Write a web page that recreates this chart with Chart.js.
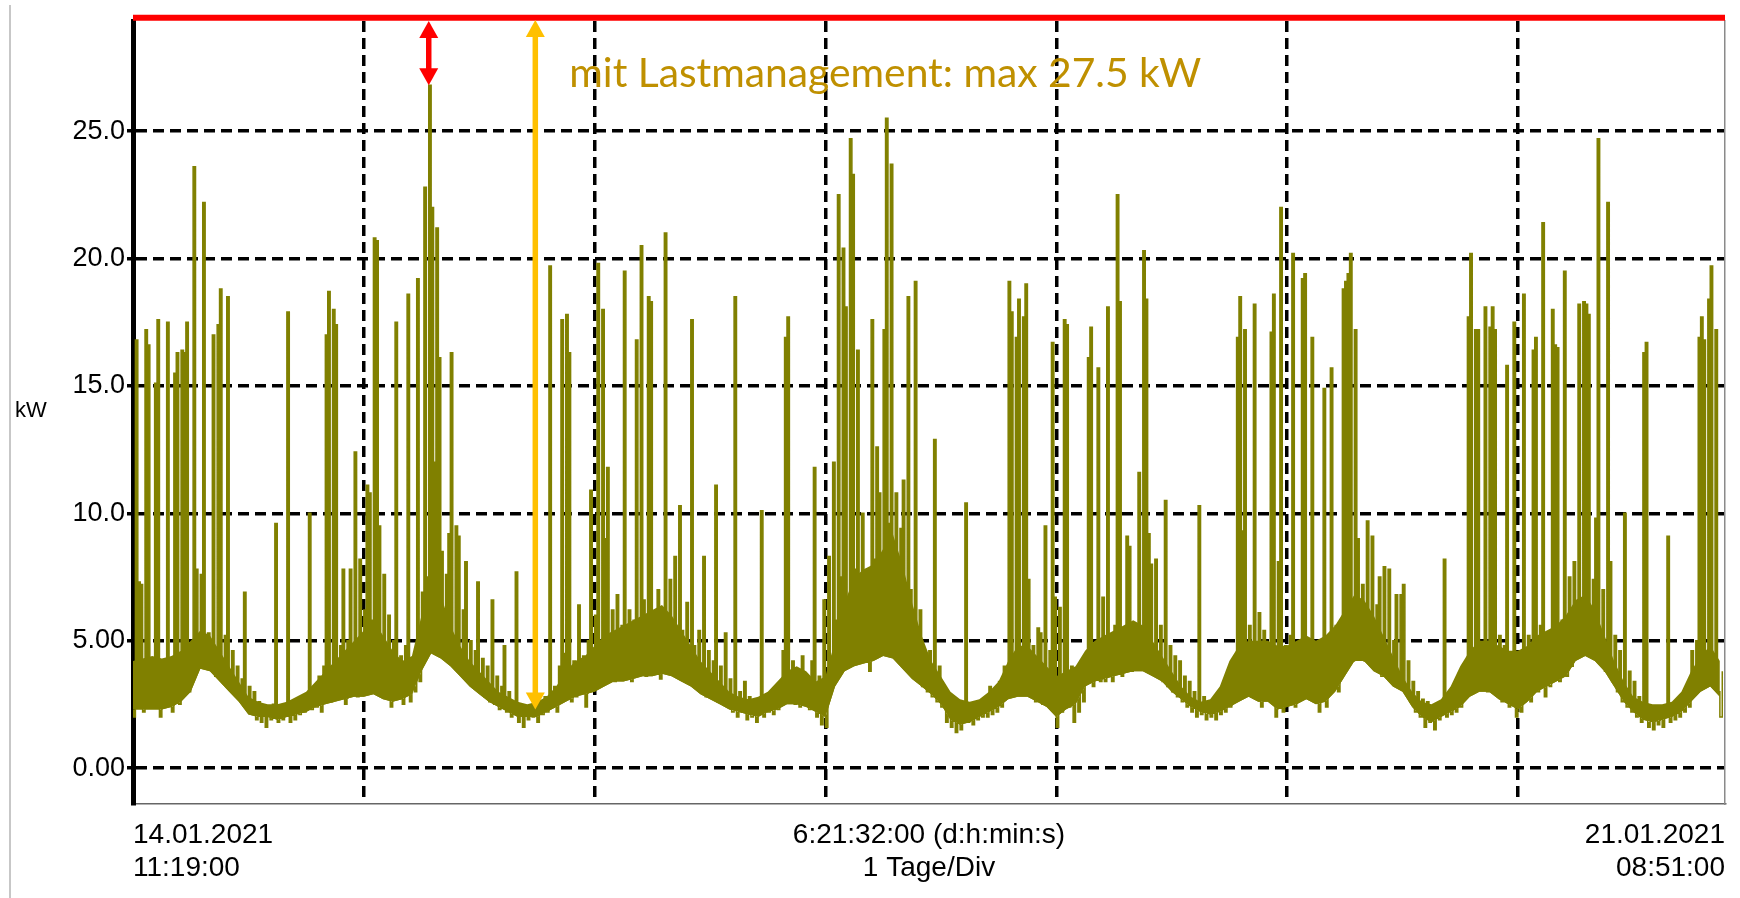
<!DOCTYPE html>
<html lang="de">
<head>
<meta charset="utf-8">
<title>Leistung mit Lastmanagement</title>
<script src="https://cdn.jsdelivr.net/npm/chart.js@4.4.1/dist/chart.umd.min.js"></script>
<style>
	html, body { margin: 0; padding: 0; background: #fff; }
	#wrap { position: relative; width: 1740px; height: 898px; }
</style>
</head>
<body>
<div id="wrap"><canvas id="loadChart"></canvas></div>
<script>
(function () {
	'use strict';

	// Messwerte in kW, 15-min-Raster ab 14.01.2021 11:19:00, ein Array pro Tag/Div
	var day1Kw = [
		2.0, 16.8, 7.3, 7.2, 2.2, 17.2, 16.6, 2.4, 4.0, 15.1, 17.6, 2.0,
		3.8, 2.6, 17.5, 3.5, 2.2, 15.5, 16.3, 2.5, 16.4, 16.3, 17.5, 3.0,
		4.4, 23.6, 7.8, 4.6, 7.6, 22.2, 4.8, 5.3, 4.2, 17.0, 3.6, 17.4,
		18.8, 3.4, 5.2, 18.5, 3.2, 4.6, 2.9, 4.0, 2.7, 3.5, 6.9, 2.5,
		3.2, 2.2, 3.0, 1.9, 2.6, 1.8, 2.4, 1.6, 2.3, 1.9, 2.5, 9.6,
		1.8, 2.2, 1.9, 2.3, 17.9, 1.8, 2.2, 1.9, 2.4, 2.1, 2.6, 2.2,
		2.8, 10.0, 2.3, 3.2, 2.4, 3.6, 2.2, 4.0, 17.0, 18.7, 2.6, 18.0,
		17.4, 3.0, 4.8, 7.8, 2.5, 5.0, 7.8, 3.2, 12.4, 2.8, 8.2, 3.0
	];
	var day2Kw = [
		6.2, 11.1, 10.8, 5.8, 20.8, 20.7, 9.5, 4.0, 7.6, 3.2, 6.0, 2.4,
		5.0, 17.5, 2.8, 4.4, 2.5, 4.8, 18.6, 2.6, 4.2, 3.0, 19.2, 3.4,
		6.9, 22.8, 7.5, 26.8, 22.0, 12.0, 21.2, 16.1, 8.5, 4.4, 7.6, 9.2,
		16.3, 4.2, 9.5, 9.1, 4.0, 6.2, 8.1, 3.8, 5.0, 3.4, 4.6, 7.3,
		3.2, 4.3, 2.8, 4.0, 2.6, 6.6, 2.5, 3.6, 2.3, 3.2, 4.8, 2.2,
		3.0, 2.0, 2.6, 7.7, 1.8, 2.4, 1.6, 2.2, 1.9, 2.3, 2.0, 2.5,
		1.8, 2.4, 2.1, 2.8, 2.2, 19.7, 2.4, 3.2, 2.2, 4.0, 17.6, 4.5,
		17.8, 16.3, 2.6, 4.2, 2.8, 6.4, 3.0, 4.4, 2.4, 5.0, 10.9, 3.6
	];
	var day3Kw = [
		6.0, 19.8, 4.5, 18.0, 9.0, 11.8, 3.8, 6.2, 3.4, 6.8, 3.6, 5.6,
		19.5, 3.8, 6.2, 3.4, 5.8, 16.8, 4.2, 20.5, 6.6, 3.6, 18.5, 18.3,
		5.4, 3.8, 7.0, 3.5, 6.0, 21.0, 4.0, 7.4, 3.8, 8.3, 4.5, 10.3,
		5.4, 3.6, 6.5, 3.5, 17.6, 4.8, 3.2, 5.4, 3.0, 8.3, 2.8, 4.6,
		3.0, 4.2, 11.1, 2.6, 4.0, 2.5, 5.3, 2.4, 3.5, 2.2, 18.5, 2.0,
		3.0, 2.2, 3.4, 1.9, 2.8, 2.0, 2.6, 1.8, 2.5, 10.1, 2.0, 2.7,
		2.2, 2.6, 2.1, 3.0, 2.3, 3.2, 4.6, 16.9, 17.7, 2.6, 4.2, 2.5,
		3.8, 2.4, 4.4, 2.6, 3.6, 2.3, 4.2, 11.8, 2.0, 3.6, 1.7, 6.6
	];
	var day4Kw = [
		1.6, 8.3, 3.4, 12.0, 5.8, 22.5, 7.5, 20.4, 18.1, 6.4, 24.7, 23.3,
		7.8, 16.4, 4.2, 10.0, 6.0, 7.8, 3.8, 17.6, 8.2, 12.6, 10.8, 7.5,
		17.2, 25.5, 9.6, 23.7, 8.4, 10.8, 6.5, 9.4, 11.3, 5.2, 18.5, 7.0,
		4.0, 19.1, 4.4, 6.2, 3.2, 4.5, 3.0, 4.6, 2.8, 12.9, 2.6, 4.0,
		2.4, 3.0, 1.8, 2.6, 1.6, 2.4, 1.4, 2.2, 1.5, 2.4, 10.4, 1.8,
		2.3, 1.7, 2.5, 1.9, 2.4, 2.0, 2.6, 2.0, 3.2, 2.1, 2.8, 2.2,
		3.4, 2.4, 4.0, 2.8, 19.1, 17.9, 3.6, 16.9, 18.4, 4.2, 17.7, 19.0,
		7.4, 3.0, 4.8, 2.6, 5.5, 5.3, 2.5, 9.5, 3.2, 4.6, 16.7, 6.7
	];
	var day5Kw = [
		1.6, 6.3, 2.2, 17.6, 17.4, 2.4, 4.0, 1.8, 3.6, 2.2, 4.2, 2.6,
		3.6, 16.1, 17.3, 3.2, 4.6, 15.7, 3.4, 6.7, 3.4, 18.1, 4.6, 3.4,
		5.6, 22.5, 18.3, 3.6, 5.0, 9.1, 8.7, 3.8, 5.4, 4.0, 11.6, 4.4,
		20.3, 18.4, 9.2, 8.0, 4.2, 8.2, 3.8, 5.6, 3.4, 10.5, 3.2, 4.8,
		3.0, 4.4, 2.8, 4.2, 2.6, 3.6, 2.4, 3.4, 2.2, 3.0, 2.0, 10.3,
		2.1, 2.8, 1.9, 2.6, 2.0, 2.7, 1.9, 2.5, 2.1, 2.8, 2.2, 3.2,
		2.4, 4.0, 3.0, 16.9, 18.5, 9.3, 17.2, 3.4, 5.6, 2.8, 18.2, 4.2,
		6.1, 2.4, 5.4, 3.0, 4.6, 17.1, 18.6, 2.0, 8.1, 22.0, 2.2, 4.8
	];
	var day6Kw = [
		2.6, 5.2, 20.2, 2.4, 4.8, 2.8, 19.2, 19.4, 3.0, 5.0, 16.9, 2.6,
		4.4, 2.2, 5.0, 14.9, 2.4, 5.2, 15.7, 3.2, 5.6, 3.0, 5.8, 18.8,
		19.1, 19.4, 20.2, 4.2, 17.2, 9.0, 4.6, 7.2, 4.2, 9.7, 4.4, 9.1,
		4.0, 6.4, 7.5, 3.6, 7.9, 3.8, 7.8, 3.4, 5.0, 6.8, 3.2, 6.8,
		7.2, 3.0, 4.2, 2.6, 3.4, 2.2, 3.0, 2.0, 2.7, 1.6, 2.6, 1.8,
		2.4, 1.5, 2.5, 1.9, 2.6, 8.2, 2.0, 2.5, 2.1, 2.8, 2.2, 3.0,
		2.4, 3.6, 3.2, 17.7, 20.2, 3.6, 17.2, 17.2, 3.2, 4.8, 18.1, 3.0,
		17.3, 18.1, 17.2, 3.4, 5.2, 2.6, 4.8, 15.8, 2.4, 4.2, 17.5, 2.0
	];
	var day7Kw = [
		4.4, 2.2, 18.6, 3.4, 5.2, 2.6, 16.4, 16.9, 3.0, 5.6, 21.4, 2.8,
		5.0, 3.2, 18.0, 16.6, 16.5, 3.4, 5.8, 19.5, 3.6, 7.5, 4.0, 8.1,
		4.4, 18.2, 6.0, 18.3, 18.2, 17.8, 5.0, 7.4, 9.8, 24.7, 4.6, 7.0,
		3.8, 22.2, 8.1, 3.4, 5.2, 3.0, 4.6, 2.6, 10.0, 2.4, 3.8, 2.2,
		3.4, 2.0, 2.8, 1.8, 16.3, 16.7, 1.6, 2.4, 1.5, 2.2, 1.7, 2.4,
		1.6, 2.3, 9.1, 1.8, 2.2, 1.9, 2.4, 2.0, 2.6, 2.2, 3.0, 2.4,
		4.6, 3.0, 5.0, 16.9, 17.7, 16.8, 3.6, 18.4, 19.7, 4.4, 17.2, 3.0,
		2.0, 3.8
	];

	// dichtes Band der Minutenwerte (untere / obere Kante), stuendlich
	var bandLowKw = [
		2.3, 2.3, 2.3, 2.3, 2.4, 2.6, 3.0, 3.9, 3.8, 3.4, 3.0, 2.6, 2.1, 2.0, 2.0, 1.9, 2.0, 2.1, 2.2, 2.4, 2.5, 2.6, 2.7, 2.8,
		2.8, 2.9, 2.7, 2.6, 2.7, 2.9, 3.8, 4.5, 4.3, 4.0, 3.6, 3.2, 2.9, 2.6, 2.4, 2.2, 2.0, 2.0, 2.0, 2.2, 2.4, 2.6, 2.8, 2.9,
		3.0, 3.2, 3.4, 3.4, 3.5, 3.6, 3.6, 3.7, 3.6, 3.4, 3.2, 2.9, 2.7, 2.5, 2.3, 2.2, 2.1, 2.0, 2.2, 2.3, 2.5, 2.5, 2.4, 2.2,
		2.0, 3.2, 3.8, 4.0, 4.1, 4.2, 4.4, 4.3, 3.9, 3.5, 3.2, 2.9, 2.5, 1.9, 1.7, 1.8, 2.0, 2.2, 2.4, 2.7, 2.8, 2.8, 2.6, 2.4,
		2.0, 2.3, 2.5, 3.2, 3.4, 3.5, 3.6, 3.7, 3.8, 3.8, 3.6, 3.4, 3.0, 2.7, 2.4, 2.2, 2.1, 2.2, 2.4, 2.6, 2.8, 2.6, 2.6, 2.3,
		2.4, 2.5, 2.7, 2.5, 2.6, 3.0, 3.6, 4.2, 4.2, 3.8, 3.6, 3.2, 3.0, 2.4, 2.0, 1.8, 2.0, 2.2, 2.4, 2.8, 3.0, 3.0, 2.7, 2.5,
		2.3, 2.6, 3.0, 3.2, 3.4, 3.6, 4.2, 4.4, 4.2, 3.8, 3.2, 2.6, 2.2, 1.9, 1.8, 1.9, 2.0, 2.2, 2.6, 3.0, 3.2, 2.8
	];
	var bandHighKw = [
		4.2, 4.3, 4.4, 4.3, 4.4, 4.6, 5.0, 5.4, 5.2, 4.6, 4.0, 3.4, 2.8, 2.6, 2.5, 2.5, 2.6, 2.8, 3.0, 3.4, 3.8, 4.2, 4.6, 5.0,
		5.4, 5.8, 5.2, 4.6, 4.2, 4.4, 6.0, 7.2, 6.8, 5.6, 4.8, 4.2, 3.8, 3.4, 3.0, 2.8, 2.6, 2.5, 2.6, 2.8, 3.2, 3.8, 4.2, 4.4,
		4.8, 5.2, 5.4, 5.6, 5.8, 6.0, 6.2, 6.4, 6.0, 5.4, 4.8, 4.2, 3.8, 3.4, 3.0, 2.8, 2.7, 2.8, 3.0, 3.4, 3.8, 4.0, 3.8, 3.4,
		3.6, 5.0, 6.5, 7.5, 7.8, 8.0, 8.6, 9.2, 8.0, 6.5, 5.2, 4.2, 3.6, 3.0, 2.7, 2.6, 2.7, 3.0, 3.4, 4.2, 4.8, 4.8, 4.4, 4.0,
		3.6, 3.8, 4.0, 4.6, 5.0, 5.2, 5.4, 5.6, 5.8, 5.6, 5.0, 4.4, 3.8, 3.2, 2.8, 2.6, 2.7, 3.2, 4.2, 4.8, 5.0, 5.0, 5.0, 4.8,
		4.8, 5.0, 5.2, 5.0, 5.2, 5.6, 6.2, 6.8, 6.6, 6.0, 5.2, 4.4, 3.6, 3.0, 2.6, 2.5, 2.7, 3.2, 4.0, 4.6, 5.0, 5.0, 4.8, 4.6,
		4.6, 4.8, 5.2, 5.4, 5.6, 6.0, 6.6, 6.8, 6.2, 5.2, 4.2, 3.4, 2.8, 2.6, 2.5, 2.5, 2.6, 3.0, 3.8, 4.4, 4.8, 4.2
	];

	var stepsPerDay = 96;
	var spanDays = 6 + 21 / 24 + 32 / 1440; // 6:21:32:00
	var limitKw = 29.45;
	var yMin = -1.41;
	var yMax = 29.32;
	var yTickValues = [0, 5, 10, 15, 20, 25];
	var yTickLabels = ['0.00', '5.00', '10.0', '15.0', '20.0', '25.0'];
	var xDivs = [1, 2, 3, 4, 5, 6];
	var xTickLabels = [
		['14.01.2021', '11:19:00'],
		['6:21:32:00 (d:h:min:s)', '1 Tage/Div'],
		['21.01.2021', '08:51:00']
	];
	var peakMark = { day: 123 / 96, kw: 26.8 };
	var lowMark = { day: 1.743, kw: 2.3 };
	var noteText = 'mit Lastmanagement: max 27.5 kW';

	var points = [];
	[day1Kw, day2Kw, day3Kw, day4Kw, day5Kw, day6Kw, day7Kw].forEach(function (arr, d) {
		arr.forEach(function (v, i) {
			points.push({ x: d + i / stepsPerDay, y: v });
		});
	});
	function hourly(arr) {
		return arr.map(function (v, h) { return { x: h / 24, y: v }; });
	}

	var olive = '#808000';
	var axisFont = { family: '"Liberation Sans", Arial, sans-serif', size: 28, lineHeight: 1.18 };
	var midDay = spanDays / 2;

	function drawDoubleArrow(ctx, x, y1, y2, color) {
		var headW = 19, headH = 17;
		ctx.save();
		ctx.strokeStyle = color;
		ctx.fillStyle = color;
		ctx.lineWidth = 5.5;
		ctx.beginPath();
		ctx.moveTo(x, y1 + headH - 1);
		ctx.lineTo(x, y2 - headH + 1);
		ctx.stroke();
		ctx.beginPath();
		ctx.moveTo(x, y1);
		ctx.lineTo(x - headW / 2, y1 + headH);
		ctx.lineTo(x + headW / 2, y1 + headH);
		ctx.closePath();
		ctx.fill();
		ctx.beginPath();
		ctx.moveTo(x, y2);
		ctx.lineTo(x - headW / 2, y2 - headH);
		ctx.lineTo(x + headW / 2, y2 - headH);
		ctx.closePath();
		ctx.fill();
		ctx.restore();
	}

	var notesPlugin = {
		id: 'notes',
		afterDraw: function (chart) {
			var ctx = chart.ctx;
			var xs = chart.scales.x;
			var ys = chart.scales.y;
			var area = chart.chartArea;

			// linker Bildrand
			ctx.save();
			ctx.strokeStyle = '#b4b4b4';
			ctx.lineWidth = 1.5;
			ctx.beginPath();
			ctx.moveTo(10, 5);
			ctx.lineTo(10, 898);
			ctx.stroke();

			ctx.fillStyle = '#000';
			ctx.font = '22px "Liberation Sans", Arial, sans-serif';
			ctx.textBaseline = 'middle';
			ctx.textAlign = 'left';
			ctx.fillText('kW', 15, 411);
			ctx.restore();

			var xPeak = xs.getPixelForValue(peakMark.day);
			var xLow = xs.getPixelForValue(lowMark.day);
			drawDoubleArrow(ctx, xPeak, area.top, ys.getPixelForValue(peakMark.kw), '#ff0000');
			drawDoubleArrow(ctx, xLow, area.top - 1, ys.getPixelForValue(lowMark.kw), '#ffc000');

			ctx.save();
			ctx.font = '100px Lato, "Open Sans", sans-serif';
			var size = 100 * 632 / ctx.measureText(noteText).width;
			ctx.font = size.toFixed(1) + 'px Lato, "Open Sans", sans-serif';
			ctx.fillStyle = '#bf9000';
			ctx.textBaseline = 'alphabetic';
			ctx.textAlign = 'left';
			ctx.fillText(noteText, xLow + 34, area.top + 66);
			ctx.restore();
		}
	};

	new Chart(document.getElementById('loadChart'), {
		type: 'line',
		data: {
			datasets: [{
				label: 'Grenze',
				data: [{ x: 0, y: limitKw }, { x: spanDays, y: limitKw }],
				borderColor: '#ff0000',
				borderWidth: 6,
				pointRadius: 0,
				clip: false,
				order: 0,
			}, {
				label: 'Band unten',
				data: hourly(bandLowKw),
				borderWidth: 0,
				borderColor: 'rgba(0,0,0,0)',
				pointRadius: 0,
				fill: false,
				order: 3,
			}, {
				label: 'Band oben',
				data: hourly(bandHighKw),
				borderWidth: 0,
				borderColor: 'rgba(0,0,0,0)',
				backgroundColor: olive,
				pointRadius: 0,
				fill: 1,
				order: 2,
			}, {
				label: 'kW',
				data: points,
				borderColor: olive,
				backgroundColor: olive,
				borderWidth: 1.5,
				pointRadius: 0,
				stepped: true,
				fill: 1,
				order: 1,
			}],
		},
		options: {
			responsive: true,
			maintainAspectRatio: false,
			animation: false,
			devicePixelRatio: 1,
			layout: { padding: { top: 21, left: 0, right: 0, bottom: 0 } },
			plugins: {
				legend: { display: false },
				tooltip: { enabled: false },
			},
			scales: {
				x: {
					type: 'linear',
					min: 0,
					max: spanDays,
					z: 1,
					afterFit: function (scale) { scale.height = 94; },
					afterBuildTicks: function (scale) {
						scale.ticks = [0, 1, 2, 3, midDay, 4, 5, 6, spanDays].map(function (v) {
							return { value: v };
						});
					},
					grid: {
						lineWidth: 3.5,
						drawTicks: false,
						color: function (ctx) {
							var v = ctx.tick ? ctx.tick.value : -1;
							return xDivs.indexOf(v) >= 0 ? '#000' : 'rgba(0,0,0,0)';
						},
					},
					border: { color: '#666', width: 1.5, dash: [11, 6] },
					ticks: {
						autoSkip: false,
						maxRotation: 0,
						minRotation: 0,
						align: 'inner',
						padding: 15,
						color: '#000',
						font: axisFont,
						callback: function (value) {
							if (value === 0) { return xTickLabels[0]; }
							if (value === midDay) { return xTickLabels[1]; }
							if (value === spanDays) { return xTickLabels[2]; }
							return '';
						},
					},
				},
				y: {
					type: 'linear',
					min: yMin,
					max: yMax,
					z: 1,
					afterFit: function (scale) { scale.width = 133; },
					afterBuildTicks: function (scale) {
						scale.ticks = yTickValues.map(function (v) { return { value: v }; });
					},
					grid: {
						color: '#000',
						lineWidth: 3.5,
						tickLength: 6,
						tickColor: '#000',
						tickWidth: 3.5,
						tickBorderDash: [],
					},
					border: { color: '#000', width: 5, dash: [11, 6] },
					ticks: {
						padding: 2,
						color: '#000',
						font: { family: '"Liberation Sans", Arial, sans-serif', size: 27 },
						callback: function (value) {
							return yTickLabels[yTickValues.indexOf(value)];
						},
					},
				},
				y2: {
					type: 'linear',
					position: 'right',
					min: yMin,
					max: yMax,
					afterFit: function (scale) { scale.width = 8; },
					grid: { display: false },
					ticks: { display: false },
					border: { color: '#8a8a8a', width: 1.5 },
				},
			},
		},
		plugins: [notesPlugin],
	});
})();
</script>
</body>
</html>
